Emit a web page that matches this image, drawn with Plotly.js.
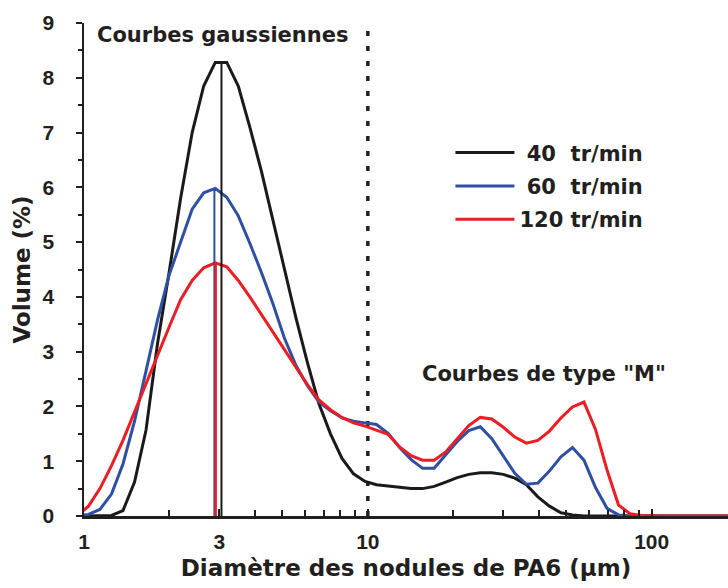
<!DOCTYPE html>
<html>
<head>
<meta charset="utf-8">
<script src="https://cdn.plot.ly/plotly-3.0.1.min.js"></script>
<style>body{margin:0;padding:0;background:#fff}#chart{width:728px;height:588px}</style>
</head>
<body>
<div id="chart"></div>
<script>
// Particle size bins (µm)
const diameter = [0.947,1.037,1.138,1.250,1.372,1.507,1.654,1.816,1.995,2.190,2.405,2.641,2.900,3.184,3.496,3.839,4.215,4.628,5.081,5.579,6.126,6.726,7.386,8.110,8.905,9.775,10.73,11.79,12.94,14.21,15.60,17.13,18.81,20.65,22.68,24.90,27.34,30.02,32.96,36.19,39.73,43.63,47.90,52.60,57.75,63.41,69.62,76.44,83.94,92.16,101.2,111.1,122.0,133.9,147.0,161.4,177.3,194.6];

// Volume (%) for each speed
const vol40  = [0,0,0,0.01,0.10,0.62,1.57,3.15,4.45,5.80,7.00,7.85,8.28,8.28,7.85,7.10,6.30,5.40,4.50,3.62,2.80,2.05,1.50,1.05,0.77,0.63,0.57,0.55,0.53,0.50,0.50,0.54,0.62,0.70,0.76,0.79,0.79,0.76,0.69,0.57,0.35,0.18,0.06,0.02,0,0,0,0,0,0,0,0,0,0,0,0,0,0];
const vol60  = [0,0.03,0.12,0.40,0.95,1.73,2.65,3.58,4.40,5.02,5.60,5.90,5.98,5.82,5.48,4.98,4.45,3.88,3.25,2.75,2.38,2.08,1.92,1.79,1.73,1.70,1.67,1.51,1.25,1.03,0.87,0.87,1.11,1.36,1.56,1.63,1.41,1.10,0.78,0.58,0.60,0.82,1.08,1.25,1.02,0.52,0.14,0.02,0,0,0,0,0,0,0,0,0,0];
const vol120 = [0,0.18,0.50,0.92,1.38,1.90,2.40,2.95,3.45,3.95,4.30,4.53,4.62,4.55,4.30,4.00,3.68,3.36,3.03,2.72,2.40,2.12,1.94,1.80,1.70,1.64,1.57,1.49,1.26,1.10,1.02,1.02,1.17,1.42,1.65,1.80,1.77,1.62,1.44,1.33,1.38,1.55,1.79,1.99,2.08,1.58,0.84,0.20,0.04,0.01,0,0,0,0,0,0,0,0];

const seriesNames = ['\u00a040\u00a0\u00a0tr/min', '\u00a060\u00a0\u00a0tr/min', '120\u00a0tr/min'];
const seriesColors = ['#1a1a1a', '#2e4fa3', '#ee1d23'];

// Modal diameters (vertical markers) and their peak heights
const modeX = [3.05, 2.88, 2.91];
const modeY = [8.28, 5.97, 4.62];

// Boundary between gaussian and "M" curves
const boundaryX = [10, 10];
const boundaryY = [0, 8.9];

const xTickVals = [1, 3, 10, 100];
const xTickText = ['1', '3', '10', '100'];
const xMinorVals = [2,4,5,6,7,8,9,20,30,40,50,60,70,80,90,200];

const annotTexts = ['Courbes gaussiennes', 'Courbes de type "M"'];

const ink = '#231f20';
const F = 'DejaVu Sans, Arial, sans-serif';
const FT = 'Liberation Sans, Arial, sans-serif';

const vols = [vol40, vol60, vol120];
const traces = [];
traces.push({x: boundaryX, y: boundaryY, mode: 'lines', showlegend: false, hoverinfo: 'skip',
  line: {color: ink, width: 3.5, dash: '5px,10px'}});
for (let i = 0; i < 3; i++) {
  traces.push({x: diameter, y: vols[i], mode: 'lines', name: seriesNames[i],
    legendgroup: 'g' + i, line: {color: seriesColors[i], width: 3}});
}
const vOrder = [1, 2, 0];
vOrder.forEach(i => {
  traces.push({x: [modeX[i], modeX[i]], y: [0, modeY[i]], mode: 'lines', showlegend: false,
    hoverinfo: 'skip', line: {color: seriesColors[i], width: i === 2 ? 2.5 : 2}});
});

const layout = {
  width: 728, height: 588,
  margin: {l: 84.3, r: 0, t: 23.3, b: 72.3, pad: 0},
  paper_bgcolor: '#ffffff', plot_bgcolor: '#ffffff',
  font: {family: F, color: ink, size: 20, weight: 'bold'},
  showlegend: true,
  legend: {x: 0.569, y: 0.778, xanchor: 'left', yanchor: 'top', bgcolor: 'rgba(0,0,0,0)',
    font: {family: F, size: 21, color: ink, weight: 'bold'}, tracegroupgap: 3,
    traceorder: 'grouped', itemwidth: 59},
  xaxis: {type: 'log', range: [0, 2.269], tickmode: 'array', tickvals: xTickVals, ticktext: xTickText,
    ticks: 'inside', ticklen: 7, tickwidth: 2, tickcolor: ink,
    showline: true, linewidth: 2.5, linecolor: ink, showgrid: false, zeroline: false,
    minor: {tickmode: 'array', tickvals: xMinorVals, ticks: 'inside', ticklen: 6, tickwidth: 2, tickcolor: ink, showgrid: false},
    tickfont: {family: FT, size: 21, color: ink, weight: 'bold'}, ticklabelstandoff: 5,
    title: {text: 'Diamètre des nodules de PA6 (µm)', font: {family: F, size: 23, color: ink, weight: 'bold'}, standoff: 8}},
  yaxis: {range: [0, 9], tick0: 0, dtick: 1, ticks: 'outside', ticklen: 6, tickwidth: 2, tickcolor: ink,
    showline: true, linewidth: 2.5, linecolor: ink, showgrid: false, zeroline: false,
    minor: {dtick: 0.5, ticks: 'outside', ticklen: 4, tickwidth: 2, tickcolor: ink, showgrid: false},
    tickfont: {family: FT, size: 21, color: ink, weight: 'bold'}, ticklabelstandoff: 17,
    title: {text: 'Volume (%)', font: {family: F, size: 23, color: ink, weight: 'bold'}, standoff: 6}},
  annotations: [
    {text: annotTexts[0], xref: 'paper', yref: 'paper', x: 0.0166, y: 0.976, xanchor: 'left', yanchor: 'middle',
      showarrow: false, font: {family: F, size: 21, color: ink, weight: 'bold'}},
    {text: annotTexts[1], xref: 'paper', yref: 'paper', x: 0.5215, y: 0.288, xanchor: 'left', yanchor: 'middle',
      showarrow: false, font: {family: F, size: 21, color: ink, weight: 'bold'}}
  ]
};

Plotly.newPlot('chart', traces, layout, {staticPlot: true, displayModeBar: false});
</script>
</body>
</html>
